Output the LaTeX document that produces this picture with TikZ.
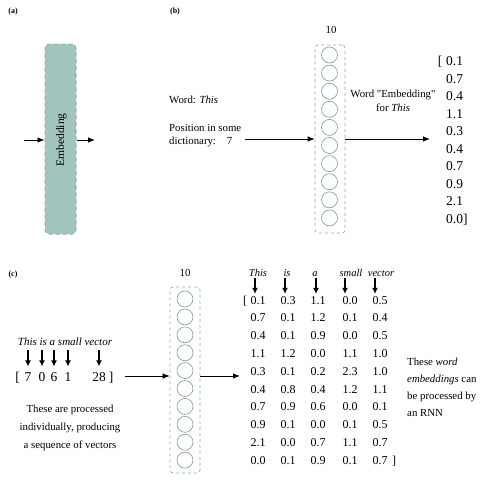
\documentclass[tikz,border=0pt]{standalone}
\usepackage{fontspec}
\setmainfont{Liberation Serif}
\usetikzlibrary{arrows.meta}
\definecolor{embfill}{HTML}{A2C5BE}
\definecolor{embline}{HTML}{A3A8A7}
\definecolor{boxline}{HTML}{8FAAA5}
\definecolor{circline}{HTML}{7E9A95}
\begin{document}
\begin{tikzpicture}[x=1pt,y=-1pt,
  arr/.style={-{Latex[length=7pt,width=5.5pt]}, line width=0.8pt},
  warr/.style={-{Latex[length=6pt,width=6pt]}, line width=1.1pt},
  plabel/.style={font=\fontsize{8}{9}\selectfont\bfseries, inner sep=0pt},
  txt/.style={font=\fontsize{10.8}{13}\selectfont, inner sep=0pt},
  bignum/.style={font=\fontsize{13.5}{15}\selectfont, inner sep=0pt, anchor=base},
  mnum/.style={font=\fontsize{12}{14}\selectfont, inner sep=0pt, anchor=base},
  mword/.style={font=\fontsize{10.5}{12}\selectfont\itshape, inner sep=0pt, anchor=base},
  dbox/.style={draw=boxline, dashed, line width=0.7pt, rounded corners=3pt, minimum width=30pt, inner sep=0pt},
  circ/.style={circle, draw=circline, line width=0.6pt, minimum size=16pt, inner sep=0pt}
]
\useasboundingbox (0,0) rectangle (486,482);

% ---------- (a) ----------
\node[plabel] (la) at (13,12) {(a)};
\node[draw=embline, fill=embfill, dash pattern=on 4pt off 3pt, line width=1pt,
      rounded corners=4pt, minimum width=31pt, minimum height=190pt, inner sep=0pt] (abox) at (60.5,139) {};
\node[font=\fontsize{11.5}{13}\selectfont, rotate=90, inner sep=0pt] (atext) at (61.5,140) {Embedding};
\coordinate (ain) at (24,140);
\coordinate (aout) at (95,140);
\draw[arr] (ain) -- (ain -| abox.west);
\draw[arr] (aout -| abox.east) -- (aout);

% ---------- (b) ----------
\node[plabel] (lb) at (175,12) {(b)};
\node[txt] (bten) at (331,30) {10};
\node[dbox, minimum height=188pt] (bbox) at (330,139) {};
\foreach \i in {1,...,10}{
  \node[circ] (bc\i) at (329.5,{55+18.1*(\i-1)}) {};
}
\node[txt, anchor=west] (bword) at (169,100) {Word: \textit{This}};
\node[txt, anchor=west] (bpos1) at (169,128) {Position in some};
\node[txt, anchor=west] (bpos2) at (169,141.5) {dictionary:\ \ \ \ 7};
\coordinate (bin) at (245,139);
\draw[arr] (bin) -- (bin -| bbox.west);
\coordinate (bout) at (430,139);
\draw[arr] (bout -| bbox.east) -- (bout);
\node[txt, align=center, font=\fontsize{10.8}{14}\selectfont\addfontfeatures{Ligatures=TeXOff}] (bemb) at (393,101) {Word "Embedding"\\for \textit{This}};
\node[bignum] (bbr) at (440,65.5) {[};
\foreach \v [count=\i] in {0.1,0.7,0.4,1.1,0.3,0.4,0.7,0.9,2.1}{
  \node[bignum, anchor=base west] (bv\i) at (446,{65.5+17.55*(\i-1)}) {\v};
}
\node[bignum, anchor=base west] (bv10) at (446,{65.5+17.55*9}) {0.0]};

% ---------- (c) ----------
\node[plabel] (lc) at (13,275) {(c)};
\node[txt] (cten) at (185,273) {10};
\node[dbox, minimum height=186pt] (cbox) at (185,380) {};
\foreach \i in {1,...,10}{
  \node[circ] (cc\i) at (185,{299+17.9*(\i-1)}) {};
}
\node[font=\fontsize{11}{13}\selectfont\itshape, inner sep=0pt, anchor=base] (csent) at (65,345.5) {This is a small vector};
\node[bignum] (cl) at (17.5,381.5) {[};
\node[bignum] (d1) at (28,381.5) {7};
\node[bignum] (d2) at (42,381.5) {0};
\node[bignum] (d3) at (54,381.5) {6};
\node[bignum] (d4) at (68,381.5) {1};
\node[bignum] (d5) at (99,381.5) {28};
\node[bignum] (cr) at (111,381.5) {]};
\foreach \k in {1,...,5}{
  \draw[warr] (d\k.north |- 0,350) -- ([yshift=6pt]d\k.north);
}
\coordinate (cin) at (125,376);
\draw[arr] (cin) -- (cin -| cbox.west);
\coordinate (cout) at (240,376);
\draw[arr] (cout -| cbox.east) -- (cout);
\node[txt, align=center, font=\fontsize{10.8}{18}\selectfont] (cproc) at (70,428) {These are processed\\individually, producing\\a sequence of vectors};

% words above matrix
\node[mword] (w1) at (258,276) {This};
\node[mword] (w2) at (287,276) {is};
\node[mword] (w3) at (315,276) {a};
\node[mword] (w4) at (351,276) {small};
\node[mword] (w5) at (381,276) {vector};

\foreach \i/\a/\b/\c/\d/\e in {
 1/0.1/0.3/1.1/0.0/0.5,
 2/0.7/0.1/1.2/0.1/0.4,
 3/0.4/0.1/0.9/0.0/0.5,
 4/1.1/1.2/0.0/1.1/1.0,
 5/0.3/0.1/0.2/2.3/1.0,
 6/0.4/0.8/0.4/1.2/1.1,
 7/0.7/0.9/0.6/0.0/0.1,
 8/0.9/0.1/0.0/0.1/0.5,
 9/2.1/0.0/0.7/1.1/0.7,
 10/0.0/0.1/0.9/0.1/0.7}{
  \node[mnum] (m\i-1) at (258,{304+17.8*(\i-1)}) {\a};
  \node[mnum] (m\i-2) at (288,{304+17.8*(\i-1)}) {\b};
  \node[mnum] (m\i-3) at (318,{304+17.8*(\i-1)}) {\c};
  \node[mnum] (m\i-4) at (350,{304+17.8*(\i-1)}) {\d};
  \node[mnum] (m\i-5) at (380,{304+17.8*(\i-1)}) {\e};
}
\node[mnum] (ml) at (245,304) {[};
\node[mnum] (mr) at (394,{304+17.8*9}) {]};
\draw[warr] ([xshift=-3pt]m1-1.north |- 0,278) -- ([xshift=-3pt,yshift=2pt]m1-1.north);
\draw[warr] ([xshift=-3pt]m1-2.north |- 0,278) -- ([xshift=-3pt,yshift=2pt]m1-2.north);
\draw[warr] ([xshift=-2pt]m1-3.north |- 0,278) -- ([xshift=-2pt,yshift=2pt]m1-3.north);
\draw[warr] ([xshift=-5pt]m1-4.north |- 0,278) -- ([xshift=-5pt,yshift=2pt]m1-4.north);
\draw[warr] ([xshift=-5pt]m1-5.north |- 0,278) -- ([xshift=-5pt,yshift=2pt]m1-5.north);

\node[txt, align=left, anchor=west, font=\fontsize{10.8}{17}\selectfont] (crnn) at (407,387.5) {These \textit{word}\\\textit{embeddings} can\\be processed by\\an RNN};
\end{tikzpicture}
\end{document}
